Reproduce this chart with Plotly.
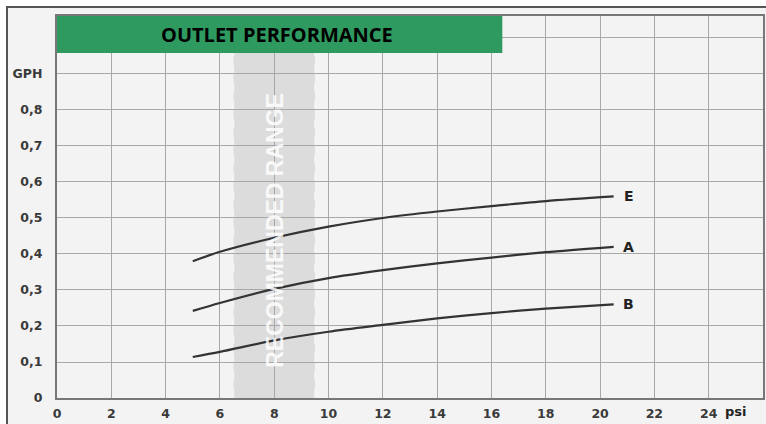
import plotly.graph_objects as go

# ---- data ----
pressure_psi = [5, 6, 8, 10, 12, 14, 16, 18, 20.5]
series_E = [0.380, 0.406, 0.445, 0.476, 0.500, 0.518, 0.533, 0.547, 0.560]
series_A = [0.242, 0.264, 0.303, 0.333, 0.355, 0.374, 0.390, 0.405, 0.420]
series_B = [0.114, 0.128, 0.160, 0.184, 0.203, 0.221, 0.236, 0.248, 0.260]
series_names = ["E", "A", "B"]

x_ticks = list(range(0, 25, 2))
x_tick_labels = [str(v) for v in x_ticks]
y_ticks = [0, 0.1, 0.2, 0.3, 0.4, 0.5, 0.6, 0.7, 0.8, 0.9, 1.0]
y_tick_labels = ["0", "0,1", "0,2", "0,3", "0,4", "0,5", "0,6", "0,7", "0,8", "GPH", ""]

recommended_range = [6.5, 9.5]
title_text = "OUTLET PERFORMANCE"
range_text = "RECOMMENDED RANGE"
x_unit = "psi"

# ---- figure ----
fig = go.Figure()
line_color = "#333333"
for name, ys in zip(series_names, [series_E, series_A, series_B]):
    fig.add_trace(go.Scatter(
        x=pressure_psi, y=ys, mode="lines", name=name,
        line=dict(color=line_color, width=2.2, shape="spline", smoothing=0.8),
        showlegend=False, hoverinfo="skip"))
    fig.add_annotation(x=21.05, y=ys[-1], text=f"<b>{name}</b>", showarrow=False,
                       xanchor="center", yanchor="middle",
                       font=dict(family="DejaVu Sans", size=14, color="#222222"))

W, H = 766, 424
L, R, T, B = 57, 3, 16, 26
pw, ph = W - L - R, H - T - B

def px_x(p):
    return (p - L) / pw

def px_y(p):
    return (H - B - p) / ph

shapes = [
    # outer frame
    dict(type="rect", xref="paper", yref="paper",
         x0=px_x(7), x1=px_x(768), y0=px_y(430), y1=px_y(7),
         fillcolor="#f3f3f3", line=dict(color="#555555", width=2), layer="below"),
    # recommended range band
    dict(type="rect", xref="x", yref="y",
         x0=recommended_range[0], x1=recommended_range[1], y0=0, y1=1.061,
         fillcolor="#dcdcdc", line=dict(width=0), layer="below"),
    dict(type="line", xref="x", yref="y", x0=recommended_range[0], x1=recommended_range[0],
         y0=0, y1=1.061, line=dict(color="#f4f4f4", width=1.5, dash="dash"), layer="below"),
    dict(type="line", xref="x", yref="y", x0=recommended_range[1], x1=recommended_range[1],
         y0=0, y1=1.061, line=dict(color="#f4f4f4", width=1.5, dash="dash"), layer="below"),
    # green title box
    dict(type="rect", xref="x", yref="y", x0=0, x1=16.4, y0=0.958, y1=1.061,
         fillcolor="#2f9a60", line=dict(width=0), layer="above"),
]

fig.add_annotation(x=8.1, y=1.009, xref="x", yref="y", text=f"<b>{title_text}</b>",
                   showarrow=False, xanchor="center", yanchor="middle",
                   font=dict(family="Open Sans", size=20, color="#000000"))
fig.add_annotation(x=8.0, y=0.465, xref="x", yref="y", text=f"<b>{range_text}</b>",
                   showarrow=False, textangle=-90, xanchor="center", yanchor="middle",
                   font=dict(family="Liberation Sans", size=23,
                             color="rgba(255,255,255,0.85)"))
fig.add_annotation(x=25.0, y=0, xref="x", yref="paper", text=f"<b>{x_unit}</b>",
                   showarrow=False, xanchor="center", yanchor="top", yshift=-4,
                   font=dict(family="DejaVu Sans", size=13, color="#222222"))

tick_font = dict(family="DejaVu Sans", size=12.5, color="#3a3a3a", weight="bold")
fig.update_layout(
    width=W, height=H,
    margin=dict(l=L, r=R, t=T, b=B, pad=0, autoexpand=False),
    paper_bgcolor="white",
    plot_bgcolor="rgba(0,0,0,0)",
    shapes=shapes,
    xaxis=dict(range=[0, 26], tickvals=x_ticks, ticktext=x_tick_labels,
               showgrid=True, gridcolor="#a8a8a8", gridwidth=1, automargin=False,
               showline=True, linecolor="#777777", linewidth=2, mirror=True,
               zeroline=False, ticks="", tickfont=tick_font, ticklabelstandoff=3),
    yaxis=dict(range=[0, 1.061], tickvals=y_ticks, ticktext=y_tick_labels,
               showgrid=True, gridcolor="#a8a8a8", gridwidth=1, automargin=False,
               showline=True, linecolor="#777777", linewidth=2, mirror=True,
               zeroline=False, ticks="", tickfont=tick_font, ticklabelstandoff=10),
)

fig.write_html("out.html", config={"displayModeBar": False},
               post_script="document.body.style.margin='0';document.body.style.overflow='hidden';")
